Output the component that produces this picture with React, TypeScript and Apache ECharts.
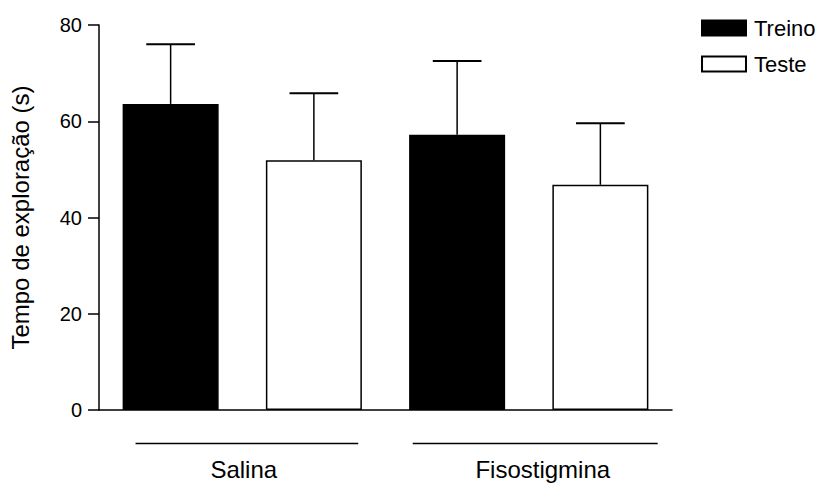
import React, { useEffect, useRef } from "react";
import * as echarts from "echarts";

const groups = ["Salina", "Fisostigmina"];
const conditions = ["Treino", "Teste"];
const categories = ["Salina Treino", "Salina Teste", "Fisostigmina Treino", "Fisostigmina Teste"];
const treinoMeans = [63.6, 57.2];
const treinoErr = [12.4, 15.3];
const testeMeans = [51.9, 46.8];
const testeErr = [13.9, 12.8];
const yTicks = [0, 20, 40, 60, 80];

const FONT = "'Liberation Sans', Arial, sans-serif";

export default function App() {
  const ref = useRef<HTMLDivElement>(null);
  useEffect(() => {
    if (!ref.current) return;
    const chart = echarts.init(ref.current, null, { renderer: "svg" });

    const treinoData: any[] = [];
    const testeData: any[] = [];
    const errData: any[] = [];
    groups.forEach((g, i) => {
      treinoData.push(treinoMeans[i], "-");
      testeData.push("-", testeMeans[i]);
      errData.push([i * 2, treinoMeans[i], treinoMeans[i] + treinoErr[i]]);
      errData.push([i * 2 + 1, testeMeans[i], testeMeans[i] + testeErr[i]]);
    });
    const groupData = groups.map((g, i) => [i * 2, i * 2 + 1]);
    // layout: extents of group underline (in band units) and label shift (px)
    const lineExt = [
      [-0.245, 0.31],
      [-0.31, 0.4],
    ];
    const labelShift = [1.5, 14];

    chart.setOption({
      animation: false,
      textStyle: { fontFamily: FONT },
      grid: { left: 99, right: 146, top: 25, bottom: 76 },
      legend: {
        data: conditions,
        orient: "vertical",
        left: 696,
        top: 12,
        icon: "rect",
        itemWidth: 44,
        itemHeight: 15,
        itemGap: 14,
        textStyle: { fontSize: 22, color: "#000", fontFamily: FONT, padding: [0, 0, 0, 3] },
      },
      xAxis: {
        type: "category",
        data: categories,
        axisLine: { lineStyle: { color: "#000", width: 1.5 } },
        axisTick: { alignWithLabel: true, length: 11, lineStyle: { color: "#000", width: 1.5 } },
        axisLabel: { show: false },
      },
      yAxis: {
        type: "value",
        min: yTicks[0],
        max: yTicks[yTicks.length - 1],
        interval: 20,
        name: "Tempo de exploração (s)",
        nameLocation: "middle",
        nameGap: 67,
        nameTextStyle: { fontSize: 24, color: "#000", fontFamily: FONT },
        splitLine: { show: false },
        axisLine: { show: true, lineStyle: { color: "#000", width: 1.5 } },
        axisTick: { show: true, length: 11, lineStyle: { color: "#000", width: 1.5 } },
        axisLabel: { fontSize: 20, color: "#000", margin: 17, fontFamily: FONT },
      },
      series: [
        {
          name: "Treino",
          type: "bar",
          data: treinoData,
          barWidth: 96,
          barGap: "-100%",
          itemStyle: { color: "#000", borderColor: "#000", borderWidth: 1.5 },
        },
        {
          name: "Teste",
          type: "bar",
          data: testeData,
          barWidth: 96,
          barGap: "-100%",
          itemStyle: { color: "#fff", borderColor: "#000", borderWidth: 1.5 },
        },
        {
          name: "err",
          type: "custom",
          data: errData,
          z: 5,
          renderItem: (params: any, api: any) => {
            const idx = api.value(0);
            const p1 = api.coord([idx, api.value(1)]);
            const p2 = api.coord([idx, api.value(2)]);
            const half = api.size([1, 0])[0] * 0.17;
            return {
              type: "group",
              children: [
                {
                  type: "line",
                  shape: { x1: p1[0], y1: p1[1], x2: p2[0], y2: p2[1] },
                  style: { stroke: "#000", lineWidth: 1.5 },
                },
                {
                  type: "line",
                  shape: { x1: p2[0] - half, y1: p2[1], x2: p2[0] + half, y2: p2[1] },
                  style: { stroke: "#000", lineWidth: 2 },
                },
              ],
            };
          },
        },
        {
          name: "groups",
          type: "custom",
          data: groupData,
          clip: false,
          renderItem: (params: any, api: any) => {
            const i = params.dataIndex;
            const a = api.coord([api.value(0), 0]);
            const b = api.coord([api.value(1), 0]);
            const band = api.size([1, 0])[0];
            const x1 = a[0] + lineExt[i][0] * band;
            const x2 = b[0] + lineExt[i][1] * band;
            const y = a[1] + 33.5;
            return {
              type: "group",
              children: [
                {
                  type: "line",
                  shape: { x1, y1: y, x2, y2: y },
                  style: { stroke: "#000", lineWidth: 1.5 },
                },
                {
                  type: "text",
                  x: (a[0] + b[0]) / 2 + labelShift[i],
                  y: y + 26,
                  style: {
                    text: groups[i],
                    fill: "#000",
                    font: `24px ${FONT}`,
                    align: "center",
                    verticalAlign: "middle",
                  },
                },
              ],
            };
          },
        },
      ],
    });
    return () => chart.dispose();
  }, []);
  return <div ref={ref} style={{ width: 818, height: 486, position: "absolute", left: 0, top: 0 }} />;
}
